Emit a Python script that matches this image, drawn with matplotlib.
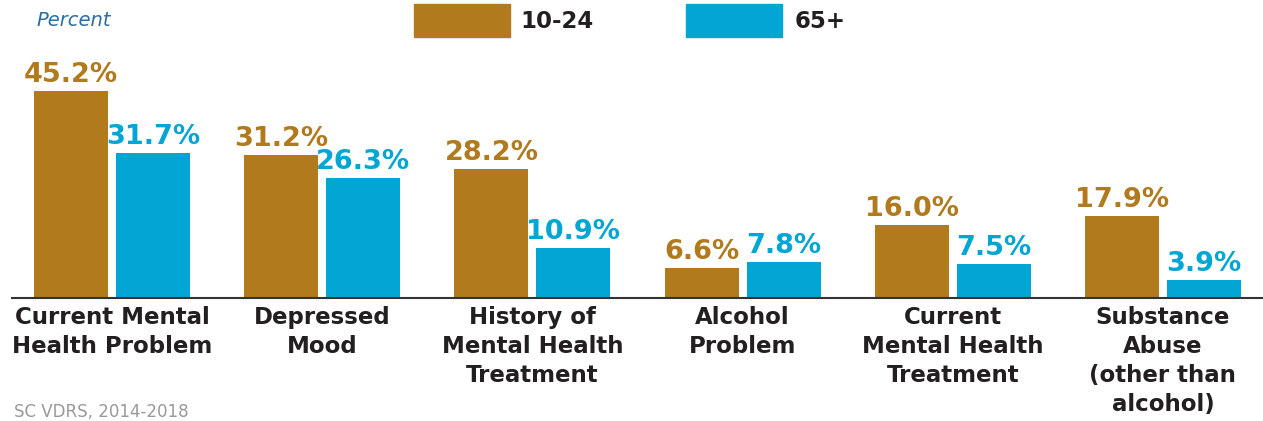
import matplotlib
matplotlib.use("Agg")
import matplotlib.pyplot as plt
import numpy as np

categories = ["Current Mental\nHealth Problem", "Depressed\nMood", "History of\nMental Health\nTreatment",
              "Alcohol\nProblem", "Current\nMental Health\nTreatment", "Substance\nAbuse\n(other than\nalcohol)"]
series_names = ["10-24", "65+"]
young = [45.2, 31.2, 28.2, 6.6, 16.0, 17.9]
old = [31.7, 26.3, 10.9, 7.8, 7.5, 3.9]

ORANGE = "#B07A1D"
BLUE = "#02A6D4"
DARK = "#231F20"
FONT = "DejaVu Sans"

fig = plt.figure(figsize=(12.63, 4.21), dpi=100)
ax = fig.add_axes([12/1263, (421-298)/421, 1251/1263, 229/421])
x = np.arange(len(categories))
w = 74/210
off = 41/210
b1 = ax.bar(x - off, young, w, color=ORANGE)
b2 = ax.bar(x + off, old, w, color=BLUE)
for bars, vals, col in [(b1, young, ORANGE), (b2, old, BLUE)]:
    for b, v in zip(bars, vals):
        ax.annotate(f"{v:.1f}%", (b.get_x() + b.get_width()/2, v), xytext=(0, 6.5),
                    textcoords="offset points", ha="center", va="baseline",
                    fontsize=19.5, fontweight="heavy", color=col, family=FONT)
ax.set_xlim(-100/210, 5 + 100/210)
ax.set_ylim(0, 50)
for s in ["top", "right", "left"]:
    ax.spines[s].set_visible(False)
ax.spines["bottom"].set_color("#333333")
ax.spines["bottom"].set_linewidth(1.5)
ax.set_yticks([])
ax.set_xticks(x)
ax.set_xticklabels(categories, fontsize=16.5, fontweight="bold", color=DARK, family=FONT,
                   linespacing=1.32, va="top")
ax.tick_params(axis="x", length=0, pad=6)

# legend
fig.patches.append(plt.Rectangle((414/1263, 1-37/421), 96/1263, 33/421, transform=fig.transFigure,
                                 color=ORANGE))
fig.patches.append(plt.Rectangle((686/1263, 1-37/421), 96/1263, 33/421, transform=fig.transFigure,
                                 color=BLUE))
fig.text(520/1263, 1-22/421, series_names[0], fontsize=16.5, fontweight="bold", color=DARK,
         family=FONT, va="center", ha="left")
fig.text(795/1263, 1-22/421, series_names[1], fontsize=16.5, fontweight="bold", color=DARK,
         family=FONT, va="center", ha="left")
fig.text(36/1263, 1-20/421, "Percent", fontsize=14, style="italic", color="#2A6EA6",
         family=FONT, va="center", ha="left")
fig.text(14/1263, 1-412/421, "SC VDRS, 2014-2018", fontsize=12, color="#999999",
         family=FONT, va="center", ha="left")

fig.savefig("out.png", dpi=100)
